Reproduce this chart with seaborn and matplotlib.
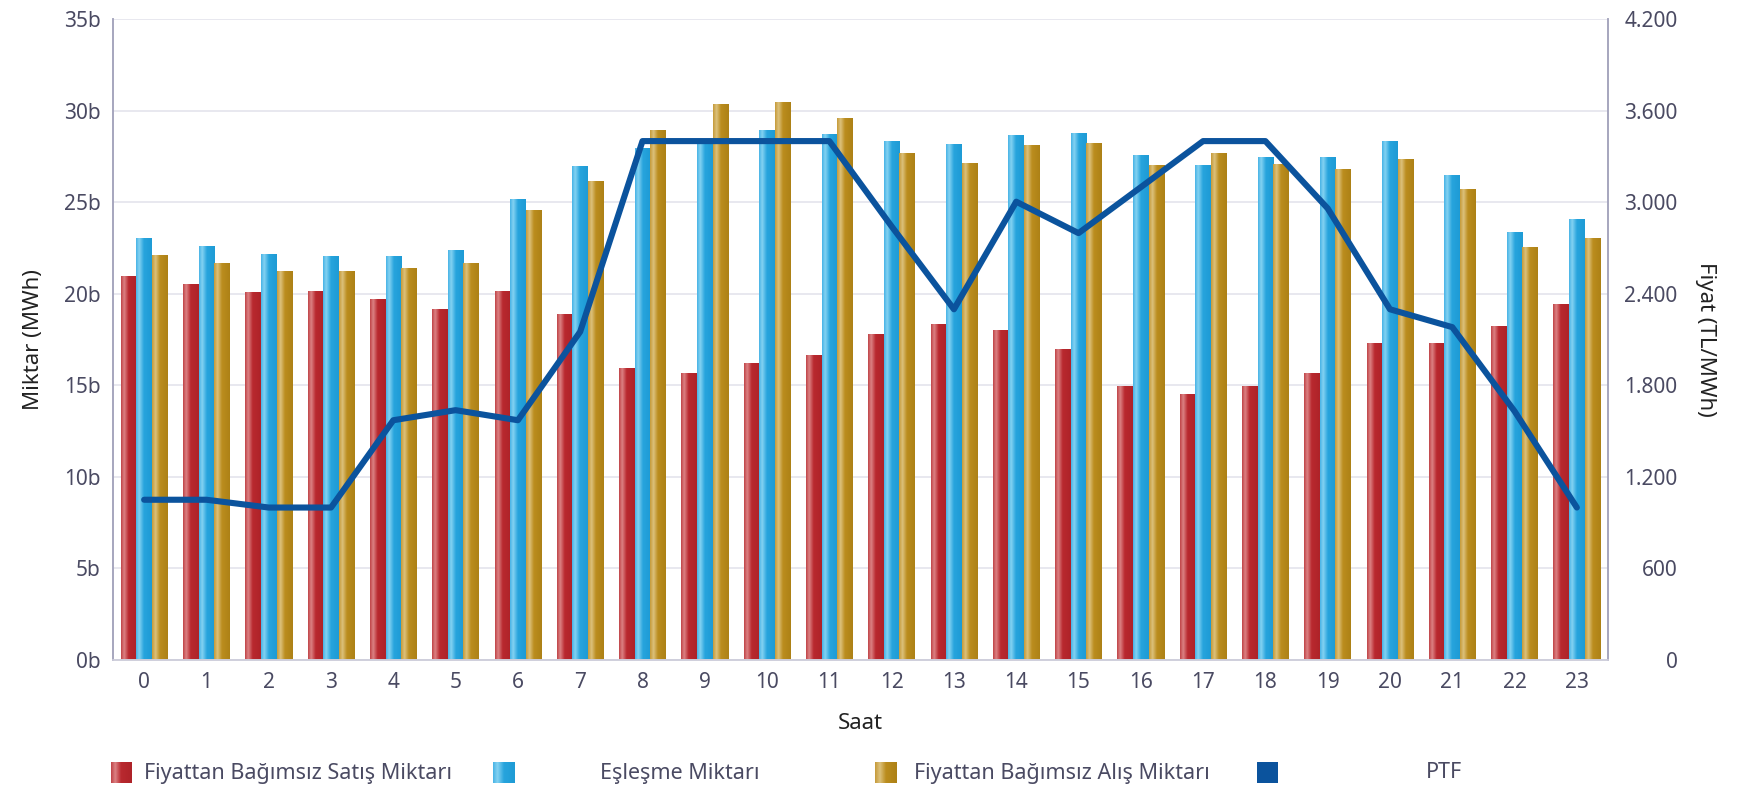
import numpy as np
import pandas as pd
import matplotlib
matplotlib.use("Agg")
import matplotlib.pyplot as plt
import seaborn as sns
from matplotlib.colors import LinearSegmentedColormap
from matplotlib.patches import Rectangle
from matplotlib.ticker import FuncFormatter, MultipleLocator

# veri (milyar MWh ve TL/MWh)
saat = list(range(24))
satis = [20.93, 20.50, 20.07, 20.13, 19.70, 19.15, 20.13, 18.85, 15.90, 15.67, 16.20, 16.65,
         17.75, 18.30, 18.00, 16.95, 14.93, 14.50, 14.93, 15.67, 17.30, 17.30, 18.20, 19.40]
eslesme = [23.00, 22.58, 22.15, 22.03, 22.03, 22.34, 25.15, 26.93, 27.95, 28.30, 28.90, 28.70,
           28.33, 28.15, 28.64, 28.76, 27.54, 26.99, 27.42, 27.42, 28.33, 26.44, 23.32, 24.05]
alis = [22.09, 21.66, 21.24, 21.24, 21.36, 21.66, 24.54, 26.15, 28.90, 30.33, 30.42, 29.56,
        27.66, 27.10, 28.10, 28.20, 27.00, 27.66, 27.05, 26.80, 27.35, 25.70, 22.52, 23.00]
ptf = [1050, 1050, 999, 999, 1571, 1637, 1571, 2151, 3400, 3400, 3400, 3400,
       2841, 2298, 3003, 2797, 3098, 3400, 3400, 2959, 2298, 2181, 1630, 999]

seriler = ["Fiyattan Bağımsız Satış Miktarı", "Eşleşme Miktarı", "Fiyattan Bağımsız Alış Miktarı"]
ptf_adi = "PTF"

df = pd.DataFrame({
    "Saat": saat * 3,
    "Miktar": satis + eslesme + alis,
    "Seri": [seriler[0]] * 24 + [seriler[1]] * 24 + [seriler[2]] * 24,
})

renkler = {
    seriler[0]: [(0, "#c04448"), (0.2, "#dc8284"), (0.48, "#b9292f"), (1, "#ae2329")],
    seriler[1]: [(0, "#48b4e6"), (0.2, "#84d2f2"), (0.5, "#27a4dd"), (1, "#1e9bd5")],
    seriler[2]: [(0, "#c69b3a"), (0.22, "#dcc17c"), (0.5, "#bb8d1e"), (1, "#ad8116")],
}
duz_renk = {k: v[2][1] for k, v in renkler.items()}
cizgi_renk = "#0b539d"
yazi_renk = "#4a4a62"

sns.set_theme(style="white")
plt.rcParams["font.family"] = ["Noto Sans", "DejaVu Sans"]

W, H = 1755, 786
fig = plt.figure(figsize=(W / 100, H / 100), dpi=100)
ax = fig.add_axes([113 / W, 1 - 660 / H, (1608 - 113) / W, (660 - 19) / H])

sns.barplot(data=df, x="Saat", y="Miktar", hue="Seri", palette=duz_renk,
            width=0.75, gap=0, dodge=True, legend=False, ax=ax, zorder=2)

grad = np.linspace(0, 1, 64).reshape(1, -1)
cmaps = {k: LinearSegmentedColormap.from_list(k, v) for k, v in renkler.items()}

# her çubuğa yatay degrade
for i, p in enumerate(ax.patches):
    seri = seriler[i // 24]
    x0, y0 = p.get_x(), p.get_y()
    w, h = p.get_width(), p.get_height()
    if h <= 0:
        continue
    ax.imshow(grad, extent=(x0, x0 + w, y0, y0 + h), aspect="auto",
              cmap=cmaps[seri], interpolation="bilinear", zorder=2.5)
    p.set_facecolor("none")
    p.set_edgecolor("none")

ax.set_xlim(-0.5, 23.5)
ax.set_ylim(0, 35)
ax.yaxis.set_major_locator(MultipleLocator(5))
ax.yaxis.set_major_formatter(FuncFormatter(lambda v, _: f"{v:g}b"))
ax.grid(axis="y", color="#e4e4ec", linewidth=1.2, zorder=0)
ax.set_axisbelow(True)
ax.set_xlabel("Saat", fontsize=16, color="#222222", labelpad=14)
ax.set_ylabel("Miktar (MWh)", fontsize=16, color="#222222", labelpad=14)
ax.tick_params(axis="both", length=0, labelsize=15, labelcolor=yazi_renk)
ax.tick_params(axis="x", pad=9)
ax.tick_params(axis="y", pad=9)

ax2 = ax.twinx()
sns.lineplot(x=saat, y=ptf, color=cizgi_renk, linewidth=4.4, ax=ax2, zorder=5)
ax2.set_ylim(0, 4200)
ax2.yaxis.set_major_locator(MultipleLocator(600))
ax2.yaxis.set_major_formatter(FuncFormatter(lambda v, _: f"{int(v):,}".replace(",", ".")))
ax2.tick_params(axis="y", length=0, labelsize=15, labelcolor=yazi_renk, pad=50)
for lab in ax2.get_yticklabels():
    lab.set_horizontalalignment("right")
ax2.set_ylabel("Fiyat (TL/MWh)", fontsize=16, color="#222222", rotation=270, labelpad=28)
ax2.grid(False)

for a in (ax, ax2):
    a.spines["top"].set_visible(False)
    a.spines["left"].set_color("#a6a6be")
    a.spines["right"].set_color("#a6a6be")
    a.spines["bottom"].set_color("#cfcfdc")
    for s in ("left", "right", "bottom"):
        a.spines[s].set_linewidth(1.2)

# alt lejant
lejant = [(seriler[0], cmaps[seriler[0]]), (seriler[1], cmaps[seriler[1]]),
          (seriler[2], cmaps[seriler[2]]), (ptf_adi, None)]
for j, (ad, cmap) in enumerate(lejant):
    px = 111 + j * 382
    py = 762
    pax = fig.add_axes([px / W, 1 - (py + 21) / H, 21 / W, 21 / H])
    pax.set_axis_off()
    if cmap is not None:
        pax.imshow(grad, aspect="auto", cmap=cmap, interpolation="bilinear")
    else:
        pax.add_patch(Rectangle((0, 0), 1, 1, color=cizgi_renk))
        pax.set_xlim(0, 1)
        pax.set_ylim(0, 1)
    fig.text((px + 187) / W, 1 - (py + 11) / H, ad, ha="center", va="center",
             fontsize=15.5, color=yazi_renk)

fig.savefig("out.png", dpi=100)
